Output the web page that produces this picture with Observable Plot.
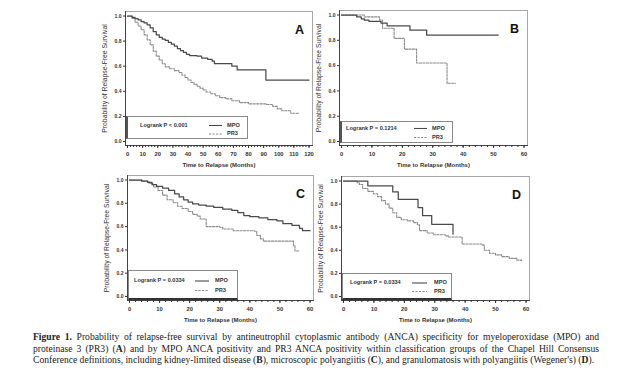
<!DOCTYPE html>
<html><head><meta charset="utf-8">
<script src="https://cdn.jsdelivr.net/npm/d3@7"></script>
<script src="https://cdn.jsdelivr.net/npm/@observablehq/plot@0.6"></script>
<style>
body{margin:0;background:#fff;}
#wrap{position:relative;width:640px;height:379px;overflow:hidden;background:#fff;font-family:"Liberation Sans",Arial,sans-serif;}
.panel{position:absolute;}
.legend{position:absolute;box-sizing:border-box;border:1px solid #8a8a8a;background:#fff;}
.legend svg{position:absolute;left:0;top:0;overflow:visible;}
.caption{position:absolute;left:33px;top:331px;width:566px;font-family:"Liberation Serif","Times New Roman",serif;font-size:9.6px;line-height:11.6px;color:#222;}
.caption .l{text-align:justify;text-align-last:justify;white-space:normal;}
</style>
</head><body>
<div id="wrap"></div>
<script>
// ---------- data ----------
const xTitle = "Time to Relapse (Months)";
const yTitle = "Probability of Relapse-Free Survival";
const seriesNames = ["MPO", "PR3"];
const panelLetters = ["A", "B", "C", "D"];
const logrankLabels = ["Logrank P < 0.001", "Logrank P = 0.1214", "Logrank P = 0.0334", "Logrank P = 0.0334"];
const xMaxima = [120, 60, 60, 60];
const yTicks = [0, 0.2, 0.4, 0.6, 0.8, 1.0];

// Panel A
const mpoA_months = [0,3,5,7,9,11,13,15,17,19,21,23,25,27,29,31,33,35,37,39,41,46,49,53,56,57.5,69,72.5,91.5,120];
const mpoA_surv   = [1,0.99,0.98,0.97,0.955,0.945,0.93,0.905,0.875,0.85,0.83,0.815,0.805,0.79,0.775,0.76,0.74,0.725,0.71,0.695,0.685,0.68,0.665,0.655,0.64,0.62,0.60,0.57,0.49,0.49];
const pr3A_months = [0,3,5,7,9,11,13,15,17,19,21,23,25,28,31,34,36,38,40,42,44,46,48,50,52,55,58,61,65,69,74,80,92,96,99,102,108,113];
const pr3A_surv   = [1,0.98,0.95,0.92,0.89,0.85,0.81,0.77,0.72,0.68,0.65,0.62,0.595,0.58,0.565,0.55,0.53,0.51,0.49,0.47,0.455,0.44,0.425,0.41,0.395,0.38,0.365,0.35,0.34,0.325,0.31,0.30,0.295,0.28,0.26,0.245,0.225,0.225];
// Panel B
const mpoB_months = [0,5,6.5,7.5,9,13,15,22.5,28,51.5];
const mpoB_surv   = [1,0.985,0.97,0.96,0.95,0.935,0.915,0.88,0.84,0.84];
const pr3B_months = [0,7.5,12.5,13.5,17.3,20.7,24.7,34.7,37.5];
const pr3B_surv   = [1,0.985,0.96,0.895,0.815,0.73,0.62,0.46,0.46];
// Panel C
const mpoC_months = [0,4,6,7.5,9,11,13,15,16.5,18,19.5,21,23,25.5,28,31,34,36,38,40,43,46,49,51,54,56.5,57.5,60];
const mpoC_surv   = [1,0.99,0.98,0.96,0.945,0.93,0.91,0.88,0.855,0.83,0.81,0.795,0.785,0.775,0.765,0.75,0.74,0.72,0.695,0.685,0.675,0.66,0.65,0.625,0.61,0.585,0.565,0.565];
const pr3C_months = [0,4.5,6.5,8,9.5,11,12.5,14.5,16,17.5,19.5,21,22.5,23.5,25.5,30,31,34.5,41.5,42.3,43.5,44.5,54,54.5,55,56.5];
const pr3C_surv   = [1,0.99,0.97,0.94,0.91,0.87,0.83,0.805,0.775,0.755,0.73,0.705,0.69,0.665,0.6,0.595,0.58,0.565,0.56,0.525,0.495,0.475,0.475,0.435,0.39,0.39];
// Panel D
const mpoD_months = [0,8,16.2,18,24.5,26,29,36];
const mpoD_surv   = [1,0.957,0.905,0.84,0.77,0.70,0.625,0.54];
const pr3D_months = [0,4.5,5.2,6.3,8,9.8,11.2,12.5,13.8,15,16.2,17.5,19,21,23,24.3,25,27.5,29.5,33.5,34.5,39,45.5,46.3,48,50,52,54.5,57,58.5];
const pr3D_surv   = [1,0.985,0.97,0.935,0.91,0.89,0.865,0.83,0.80,0.765,0.725,0.685,0.665,0.655,0.64,0.62,0.57,0.55,0.535,0.525,0.515,0.455,0.445,0.40,0.375,0.36,0.345,0.33,0.315,0.305];

const panelSeries = [
  [[mpoA_months, mpoA_surv], [pr3A_months, pr3A_surv]],
  [[mpoB_months, mpoB_surv], [pr3B_months, pr3B_surv]],
  [[mpoC_months, mpoC_surv], [pr3C_months, pr3C_surv]],
  [[mpoD_months, mpoD_surv], [pr3D_months, pr3D_surv]]
];

// ---------- layout (frame rectangles & legend boxes) ----------
const layouts = [
  {left:125, top:11,  w:187, h:134, leg:{w:122,h:23,gap:6,textX:12,row1:8.5,row2:17,lineX:81,lineW:13,labelX:99}},
  {left:339, top:10,  w:188, h:135, leg:{w:113,h:22,gap:2,textX:4,row1:6.5,row2:15.5,lineX:72,lineW:13,labelX:90}},
  {left:127, top:175, w:186, h:125, leg:{w:110,h:30,gap:0,textX:5,row1:10,row2:19.5,lineX:66,lineW:14,labelX:86}},
  {left:341, top:176, w:188, h:124, leg:{w:110,h:27,gap:0,textX:7,row1:9,row2:17.5,lineX:69,lineW:15,labelX:91}}
];
const mL = 40, mR = 8, mT = 4, mB = 30;
const colMPO = "#4a4a4a", colPR3 = "#8a8a8a";

const wrap = document.getElementById("wrap");

layouts.forEach((L, i) => {
  const xmax = xMaxima[i];
  const ppu = (L.w - 5.5) / xmax;
  const xDomain = [-2 / ppu, xmax + 3.5 / ppu];
  const k = L.h - 8.5;
  const yDomain = [-4 / k, 1 + 4.5 / k];
  const toRows = ([t, s]) => t.map((d, j) => ({t: d, s: s[j]}));
  const mpo = toRows(panelSeries[i][0]);
  const pr3 = toRows(panelSeries[i][1]);
  const major = d3.range(0, xmax + 1, 10);
  const minor = d3.range(0, xmax + 1, 2);

  const chart = Plot.plot({
    width: mL + L.w + mR,
    height: mT + L.h + mB,
    marginLeft: mL, marginRight: mR, marginTop: mT, marginBottom: mB,
    style: {background: "transparent", color: "#333", fontFamily: "'Liberation Sans', Arial, sans-serif", overflow: "visible"},
    x: {domain: xDomain},
    y: {domain: yDomain},
    marks: [
      Plot.frame({stroke: "#a8a8a8"}),
      Plot.frame({anchor: "left", stroke: "#444"}),
      Plot.frame({anchor: "bottom", stroke: "#444"}),
      Plot.axisY({ticks: yTicks, tickFormat: d3.format(".1f"), tickSize: 2, tickPadding: 2, label: null, fontSize: 5, fontWeight: "bold"}),
      Plot.axisX({ticks: minor, tickSize: 2, tickFormat: () => "", label: null}),
      Plot.axisX({ticks: major, tickSize: 3, tickPadding: 3, label: null, fontSize: 5.8, fontWeight: "bold"}),
      Plot.line(pr3, {x: "t", y: "s", curve: "step-after", stroke: colPR3, strokeWidth: 1.1, strokeDasharray: "2.2,1.3"}),
      Plot.line(mpo, {x: "t", y: "s", curve: "step-after", stroke: colMPO, strokeWidth: 1.25}),
      Plot.text([panelLetters[i]], {frameAnchor: "top-right", textAnchor: "middle", dx: -13, dy: 14, fontSize: 12.5, fontWeight: "bold", fill: "#111"}),
      Plot.text([yTitle], {frameAnchor: "left", textAnchor: "middle", rotate: -90, dx: -21, fontSize: 6.8, fill: "#333"}),
      Plot.text([xTitle], {frameAnchor: "bottom", textAnchor: "middle", dy: 21, fontSize: 6, fontWeight: "bold", fill: "#333"})
    ]
  });
  const holder = document.createElement("div");
  holder.className = "panel";
  holder.style.left = (L.left - mL) + "px";
  holder.style.top = (L.top - mT) + "px";
  holder.appendChild(chart);
  wrap.appendChild(holder);

  // legend box
  const g = L.leg;
  const box = document.createElement("div");
  box.className = "legend";
  box.style.left = (L.left + 1) + "px";
  box.style.top = (L.top + L.h - g.gap - g.h) + "px";
  box.style.width = g.w + "px";
  box.style.height = g.h + "px";
  if (i >= 2) box.style.borderBottom = "2px solid #333";
  else box.style.borderLeft = "2px solid #555";
  const ns = "http://www.w3.org/2000/svg";
  const svg = document.createElementNS(ns, "svg");
  svg.setAttribute("width", g.w); svg.setAttribute("height", g.h);
  svg.style.fontFamily = "'Liberation Sans', Arial, sans-serif";
  const addText = (x, y, str) => {
    const t = document.createElementNS(ns, "text");
    t.setAttribute("x", x); t.setAttribute("y", y);
    t.setAttribute("dominant-baseline", "middle");
    t.setAttribute("font-size", "5.6"); t.setAttribute("font-weight", "bold"); t.setAttribute("fill", "#333");
    t.textContent = str; svg.appendChild(t);
  };
  const addLine = (y, color, dash) => {
    const l = document.createElementNS(ns, "line");
    l.setAttribute("x1", g.lineX); l.setAttribute("x2", g.lineX + g.lineW);
    l.setAttribute("y1", y); l.setAttribute("y2", y);
    l.setAttribute("stroke", color); l.setAttribute("stroke-width", "1.1");
    if (dash) l.setAttribute("stroke-dasharray", "2.2,1.3");
    svg.appendChild(l);
  };
  addText(g.textX, g.row1, logrankLabels[i]);
  addLine(g.row1, colMPO, false);
  addText(g.labelX, g.row1, seriesNames[0]);
  addLine(g.row2, colPR3, true);
  addText(g.labelX, g.row2, seriesNames[1]);
  box.appendChild(svg);
  wrap.appendChild(box);
});

// caption
const cap = document.createElement("div");
cap.className = "caption";
cap.innerHTML =
  '<div class="l"><b>Figure 1.</b> Probability of relapse-free survival by antineutrophil cytoplasmic antibody (ANCA) specificity for myeloperoxidase (MPO) and</div>' +
  '<div class="l">proteinase 3 (PR3) (<b>A</b>) and by MPO ANCA positivity and PR3 ANCA positivity within classification groups of the Chapel Hill Consensus</div>' +
  '<div class="l3">Conference definitions, including kidney-limited disease (<b>B</b>), microscopic polyangiitis (<b>C</b>), and granulomatosis with polyangiitis (Wegener\'s) (<b>D</b>).</div>';
wrap.appendChild(cap);
</script>
</body></html>
